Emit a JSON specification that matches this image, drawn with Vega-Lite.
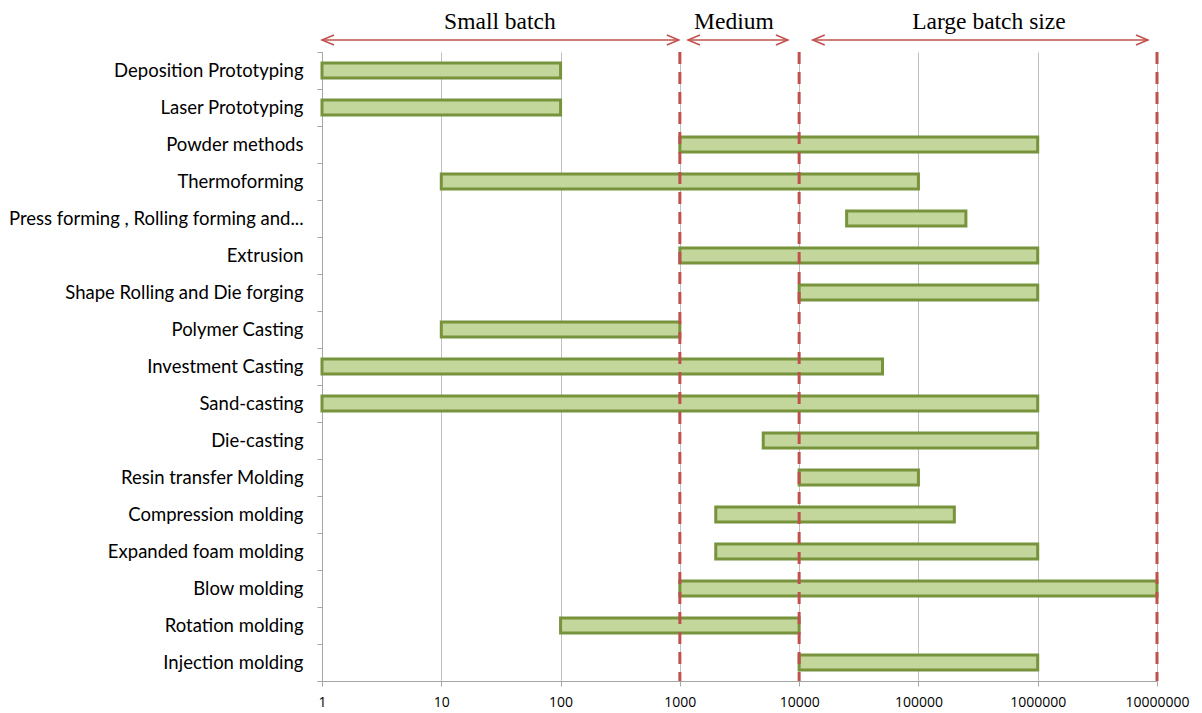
{
  "$schema": "https://vega.github.io/schema/vega-lite/v6.json",
  "padding": {"left": 0, "top": 5, "right": 5, "bottom": 2},
  "background": "white",
  "spacing": 0,
  "bounds": "flush",
  "config": {"view": {"stroke": null}},
  "datasets": {
    "bars": [
      {"process": "Deposition Prototyping", "start": 1, "end": 100},
      {"process": "Laser Prototyping", "start": 1, "end": 100},
      {"process": "Powder methods", "start": 1000, "end": 1000000},
      {"process": "Thermoforming", "start": 10, "end": 100000},
      {"process": "Press forming , Rolling forming and...", "start": 25000, "end": 250000},
      {"process": "Extrusion", "start": 1000, "end": 1000000},
      {"process": "Shape Rolling and Die forging", "start": 10000, "end": 1000000},
      {"process": "Polymer Casting", "start": 10, "end": 1000},
      {"process": "Investment Casting", "start": 1, "end": 50000},
      {"process": "Sand-casting", "start": 1, "end": 1000000},
      {"process": "Die-casting", "start": 5000, "end": 1000000},
      {"process": "Resin transfer Molding", "start": 10000, "end": 100000},
      {"process": "Compression molding", "start": 2000, "end": 200000},
      {"process": "Expanded foam molding", "start": 2000, "end": 1000000},
      {"process": "Blow molding", "start": 1000, "end": 10000000},
      {"process": "Rotation molding", "start": 100, "end": 10000},
      {"process": "Injection molding", "start": 10000, "end": 1000000}
    ],
    "limits": [{"limit": 1000}, {"limit": 10000}, {"limit": 10000000}],
    "ranges": [
      {"name": "Small batch", "from": 1, "to": 980, "center": 31},
      {"name": "Medium", "from": 1170, "to": 8050, "center": 2840},
      {"name": "Large batch size", "from": 13000, "to": 8400000, "center": 390000}
    ]
  },
  "vconcat": [
    {
      "width": 835,
      "height": 47,
      "data": {"name": "ranges"},
      "layer": [
        {
          "mark": {"type": "text", "font": "Liberation Serif", "fontSize": 23.5, "color": "black", "baseline": "middle", "align": "center"},
          "encoding": {
            "x": {"field": "center", "type": "quantitative", "scale": {"type": "log", "domain": [1, 10000000], "nice": false}, "axis": null},
            "y": {"datum": "title", "type": "nominal", "scale": {"type": "point", "domain": ["title", "arrow"], "range": [17, 35], "padding": 0}, "axis": null},
            "text": {"field": "name"}
          }
        },
        {
          "mark": {"type": "rule", "color": "#c0504d", "strokeWidth": 1.5},
          "encoding": {
            "x": {"field": "from", "type": "quantitative"},
            "x2": {"field": "to"},
            "y": {"datum": "arrow", "type": "nominal"}
          }
        },
        {
          "mark": {"type": "point", "shape": "M 2.4 -1 L 0 0 L 2.4 1", "filled": false, "color": "#c0504d", "strokeWidth": 1.5, "size": 100, "opacity": 1},
          "encoding": {
            "x": {"field": "from", "type": "quantitative"},
            "y": {"datum": "arrow", "type": "nominal"}
          }
        },
        {
          "mark": {"type": "point", "shape": "M -2.4 -1 L 0 0 L -2.4 1", "filled": false, "color": "#c0504d", "strokeWidth": 1.5, "size": 100, "opacity": 1},
          "encoding": {
            "x": {"field": "to", "type": "quantitative"},
            "y": {"datum": "arrow", "type": "nominal"}
          }
        }
      ]
    },
    {
      "width": 835,
      "height": 629,
      "layer": [
        {
          "data": {"name": "bars"},
          "mark": {"type": "bar", "height": {"band": 0.4}, "fill": "#c3d69b", "stroke": "#77933c", "strokeWidth": 3, "cornerRadius": 0},
          "encoding": {
            "y": {
              "field": "process", "type": "nominal", "sort": null,
              "scale": {"paddingInner": 0, "paddingOuter": 0},
              "axis": {
                "title": null, "labelFont": "Lato", "labelFontSize": 18.5, "labelColor": "black",
                "labelLimit": 400, "labelPadding": 14, "tickBand": "extent", "tickSize": 5,
                "tickColor": "#a6a6a6", "domainColor": "#a6a6a6", "grid": false,
                "minExtent": 322, "maxExtent": 322
              }
            },
            "x": {
              "field": "start", "type": "quantitative",
              "scale": {"type": "log", "domain": [1, 10000000], "nice": false},
              "axis": {
                "title": null, "values": [1, 10, 100, 1000, 10000, 100000, 1000000, 10000000],
                "format": "d", "labelFont": "Open Sans", "labelFontSize": 14, "labelColor": "black",
                "labelPadding": 9, "tickSize": 5, "tickColor": "#a6a6a6", "domainColor": "#a6a6a6",
                "grid": true, "gridColor": "#bfbfbf", "gridWidth": 1, "labelFlush": false, "labelOverlap": false
              }
            },
            "x2": {"field": "end"}
          }
        },
        {
          "data": {"name": "limits"},
          "mark": {"type": "rule", "color": "#c0504d", "strokeWidth": 3, "strokeDash": [12, 8]},
          "encoding": {
            "x": {"field": "limit", "type": "quantitative"}
          }
        }
      ]
    }
  ]
}
